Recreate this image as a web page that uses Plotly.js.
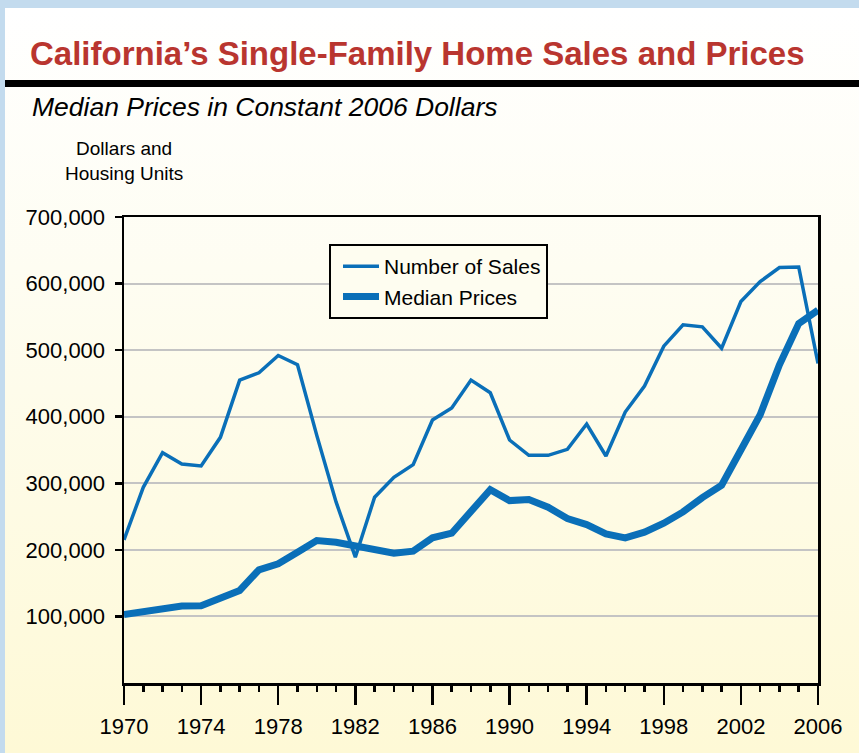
<!DOCTYPE html>
<html>
<head>
<meta charset="utf-8">
<script src="https://cdn.plot.ly/plotly-3.0.1.min.js"></script>
<style>
  html, body { margin: 0; padding: 0; }
  body { width: 859px; height: 753px; background: #c3dbee; position: relative; overflow: hidden; }
  #panel { position: absolute; left: 5px; top: 8px; width: 854px; height: 745px;
           background: linear-gradient(to bottom, #ffffff 0%, #fefdf2 35%, #fef9d6 100%); }
  #rule { position: absolute; left: 5px; top: 80px; width: 854px; height: 7px; background: #000; }
  #chart { position: absolute; left: 0; top: 0; width: 859px; height: 753px; }
</style>
</head>
<body>
<div id="panel"></div>
<div id="rule"></div>
<div id="chart"></div>
<script>
// ---- data ----
const years = [1970,1971,1972,1973,1974,1975,1976,1977,1978,1979,
               1980,1981,1982,1983,1984,1985,1986,1987,1988,1989,
               1990,1991,1992,1993,1994,1995,1996,1997,1998,1999,
               2000,2001,2002,2003,2004,2005,2006];
const numberOfSales = [215000,294000,346000,329000,326000,369000,455000,466000,492000,478000,
                       372000,272000,189000,279000,309000,328000,395000,413000,455000,436000,
                       365000,342000,342000,351000,389000,341000,407000,446000,506000,538000,
                       535000,503000,573000,603000,624000,625000,480000];
const medianPrices = [103000,108000,111500,115500,116000,126500,139000,170000,179000,196500,
                      214000,211500,206000,203000,195000,198000,218000,225000,257000,290500,
                      274000,275500,264000,247000,238000,224000,218000,226500,240000,257000,
                      278500,297000,350000,403000,478000,540000,560000];
const seriesNames = ["Number of Sales", "Median Prices"];
const yTickVals = [100000,200000,300000,400000,500000,600000,700000];
const xTickVals = [1970,1974,1978,1982,1986,1990,1994,1998,2002,2006];

const titleText = "California\u2019s Single-Family Home Sales and Prices";
const subtitleText = "Median Prices in Constant 2006 Dollars";
const yLabelText = "Dollars and<br>Housing Units";

// ---- layout helpers (pixel -> paper) ----
const L = 124, R = 818, T = 217, B = 683;
const px = x => (x - L) / (R - L);
const py = y => (B - y) / (B - T);

const blue = "#0a6fb8";
const font = "'Liberation Sans', Arial, Helvetica, sans-serif";

const traces = [
  { x: years, y: numberOfSales, name: seriesNames[0], type: "scatter", mode: "lines",
    line: { color: blue, width: 3.5 } },
  { x: years, y: medianPrices, name: seriesNames[1], type: "scatter", mode: "lines",
    line: { color: blue, width: 7 } }
];

const layout = {
  width: 859, height: 753,
  margin: { l: L, r: 859 - R, t: T, b: 753 - B, pad: 0 },
  paper_bgcolor: "rgba(0,0,0,0)",
  plot_bgcolor: "rgba(0,0,0,0)",
  font: { family: font, color: "#000", size: 22 },
  showlegend: true,
  legend: {
    x: px(329), y: py(244), xanchor: "left", yanchor: "top",
    bgcolor: "#fefdf0", bordercolor: "#000", borderwidth: 2,
    font: { family: font, size: 21, color: "#000" },
    itemwidth: 36, indentation: 7
  },
  xaxis: {
    range: [1970, 2006], tickvals: xTickVals, ticks: "outside", ticklen: 19, tickwidth: 2.5,
    tickcolor: "#000", showgrid: false, zeroline: false,
    showline: true, linecolor: "#000", linewidth: 2.5, mirror: true,
    tickfont: { family: font, size: 22 }, ticklabelstandoff: 3,
    minor: { dtick: 1, tick0: 1970, ticks: "outside", ticklen: 6, tickwidth: 2.5, tickcolor: "#000", showgrid: false }
  },
  yaxis: {
    range: [0, 700000], tickvals: yTickVals, tickformat: ",d", ticks: "outside", ticklen: 7,
    tickwidth: 2.5, tickcolor: "#000",
    showgrid: true, gridcolor: "#c4c4c4", gridwidth: 2, zeroline: false,
    showline: true, linecolor: "#000", linewidth: 2.5, mirror: true,
    tickfont: { family: font, size: 22 }, ticklabelstandoff: 5
  },
  annotations: [
    { text: "<b>" + titleText + "</b>", xref: "paper", yref: "paper", x: px(28), y: py(53),
      xanchor: "left", yanchor: "middle", showarrow: false,
      font: { family: font, size: 33, color: "#b9352f" } },
    { text: "<i>" + subtitleText + "</i>", xref: "paper", yref: "paper", x: px(30), y: py(107),
      xanchor: "left", yanchor: "middle", showarrow: false,
      font: { family: font, size: 26.5, color: "#000" } },
    { text: yLabelText, xref: "paper", yref: "paper", x: px(124), y: py(161),
      xanchor: "center", yanchor: "middle", showarrow: false, align: "center",
      font: { family: font, size: 19, color: "#000" } }
  ]
};

Plotly.newPlot("chart", traces, layout, { staticPlot: true, displayModeBar: false });
</script>
</body>
</html>
